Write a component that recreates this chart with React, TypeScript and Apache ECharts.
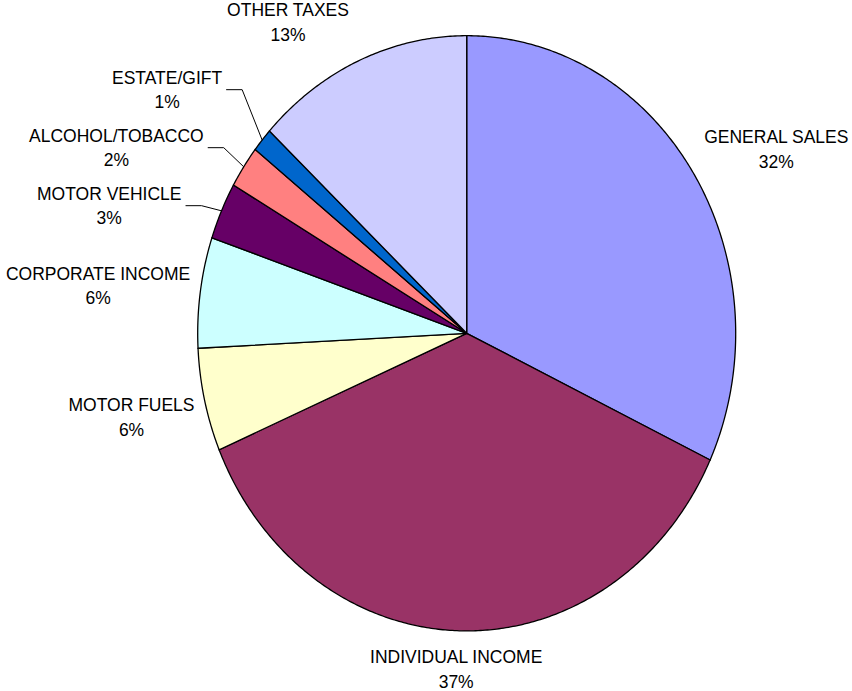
import React, { useEffect, useRef } from "react";
import * as echarts from "echarts";

// ---- data ----
const categories = [
  "GENERAL SALES",
  "INDIVIDUAL INCOME",
  "MOTOR FUELS",
  "CORPORATE INCOME",
  "MOTOR VEHICLE",
  "ALCOHOL/TOBACCO",
  "ESTATE/GIFT",
  "OTHER TAXES",
];
const values = [32.0, 36.6, 5.6, 6.0, 3.1, 2.3, 1.3, 13.1];
const colors = ["#9999FF", "#993366", "#FFFFCC", "#CCFFFF", "#660066", "#FF8080", "#0066CC", "#CCCCFF"];

// ---- layout ----
const W = 852;
const H = 691;
const CX = 466.7;
const CY = 333.3;
const RX = 269;
const RY = 297.6;
const FONT_FAMILY = '"Liberation Sans", Arial, sans-serif';
const FONT_SIZE = 17.5;
const TEXT_SCALE_Y = 1.06;
const LINE_H = 23;
const GAP_X = 10;
const GAP_Y = 14;
const SMALL_SHIFT = 30;
const LABEL_SPACING = 58;

type Lay = {
  a0: number;
  a1: number;
  px: number;
  py: number;
  lx: number;
  ly: number;
  w: number;
  h: number;
  side: number;
  small: boolean;
  text: string;
  defY: number;
};

const clamp = (v: number, a: number, b: number) => Math.max(a, Math.min(b, v));
const pt = (a: number, rx = RX, ry = RY) => [CX + rx * Math.sin(a), CY - ry * Math.cos(a)];

function computeLayout(): Lay[] {
  const ctx = document.createElement("canvas").getContext("2d")!;
  ctx.font = `${FONT_SIZE}px ${FONT_FAMILY}`;
  const total = values.reduce((s, v) => s + v, 0);
  let cum = 0;
  const out: Lay[] = values.map((v, i) => {
    const a0 = (cum / total) * Math.PI * 2;
    cum += v;
    const a1 = (cum / total) * Math.PI * 2;
    const mid = (a0 + a1) / 2;
    const [px, py] = pt(mid);
    const pct = Math.round((v / total) * 100) + "%";
    const w = Math.max(ctx.measureText(categories[i]).width, ctx.measureText(pct).width);
    const h = LINE_H * TEXT_SCALE_Y * 2;
    const s = Math.sin(mid);
    const c = Math.cos(mid);
    const hx = clamp(s * 3, -1, 1);
    const vy = clamp(-c * (c < 0 ? 2 : 1.2), -1, 1);
    const small = v / total < 0.04;
    let lx = px + hx * (w / 2 + GAP_X);
    const ly = py + vy * (h / 2 + GAP_Y);
    if (small) lx += Math.sign(hx) * SMALL_SHIFT;
    return {
      a0, a1, px, py, lx, ly, w, h,
      side: hx < 0 ? -1 : 1,
      small,
      text: categories[i] + "\n" + pct,
      defY: ly,
    };
  });
  // resolve vertical overlaps per side with clusters
  for (const side of [-1, 1]) {
    const items = out.filter((l) => l.side === side).sort((a, b) => a.defY - b.defY);
    const clusters: Lay[][] = items.map((l) => [l]);
    const place = (cl: Lay[]) => {
      const mean = cl.reduce((s, l) => s + l.defY, 0) / cl.length;
      cl.forEach((l, k) => (l.ly = mean + (k - (cl.length - 1) / 2) * LABEL_SPACING));
    };
    let changed = true;
    while (changed) {
      changed = false;
      clusters.forEach(place);
      for (let k = 0; k < clusters.length - 1; k++) {
        const a = clusters[k];
        const b = clusters[k + 1];
        if (b[0].ly - a[a.length - 1].ly < LABEL_SPACING) {
          clusters.splice(k, 2, a.concat(b));
          changed = true;
          break;
        }
      }
    }
    clusters.forEach(place);
  }
  return out;
}

export default function App() {
  const ref = useRef<HTMLDivElement>(null);
  useEffect(() => {
    if (!ref.current) return;
    const chart = echarts.init(ref.current, undefined, { renderer: "svg" });
    const layout = computeLayout();
    const renderItem = (params: any) => {
      const L = layout[params.dataIndex];
      const pts: number[][] = [[CX, CY]];
      const steps = Math.max(2, Math.ceil((L.a1 - L.a0) / (Math.PI / 360)));
      for (let k = 0; k <= steps; k++) {
        pts.push(pt(L.a0 + ((L.a1 - L.a0) * k) / steps));
      }
      const children: any[] = [
        {
          type: "polygon",
          shape: { points: pts },
          style: { fill: colors[params.dataIndex], stroke: "#000", lineWidth: 1.3 },
        },
      ];
      if (L.small) {
        const edge = L.lx + (L.side < 0 ? L.w / 2 + 4 : -L.w / 2 - 4);
        const elbow = edge - L.side * 16;
        children.push({
          type: "polyline",
          shape: { points: [[L.px, L.py], [elbow, L.ly], [edge, L.ly]] },
          style: { stroke: "#000", lineWidth: 1, fill: null },
        });
      }
      children.push({
        type: "text",
        x: L.lx,
        y: L.ly,
        scaleY: TEXT_SCALE_Y,
        style: {
          text: L.text,
          fill: "#000",
          fontSize: FONT_SIZE,
          fontFamily: FONT_FAMILY,
          align: "center",
          verticalAlign: "middle",
          lineHeight: LINE_H,
        },
      });
      return { type: "group", children };
    };
    chart.setOption({
      animation: false,
      backgroundColor: "#fff",
      series: [
        {
          type: "custom",
          coordinateSystem: "none",
          silent: true,
          data: values.map((v) => [v]),
          renderItem,
        },
      ],
    });
    return () => chart.dispose();
  }, []);
  return (
    <div
      ref={ref}
      style={{ position: "absolute", left: 0, top: 0, width: W, height: H }}
    />
  );
}
